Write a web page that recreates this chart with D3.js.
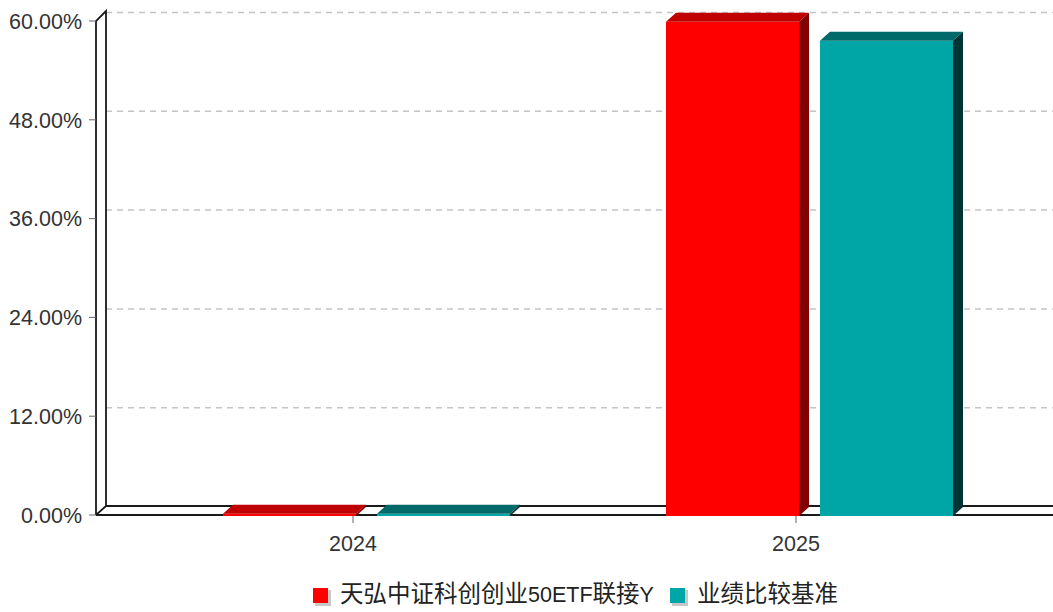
<!DOCTYPE html>
<html>
<head>
<meta charset="utf-8">
<script src="https://cdn.jsdelivr.net/npm/d3@7"></script>
<style>
  html, body { margin: 0; padding: 0; background: #fff; }
  svg { display: block; }
</style>
</head>
<body>
<svg id="chart" width="1053" height="612"></svg>
<script>
// data
const years = ['2024', '2025'];
const seriesNames = ['天弘中证科创创业50ETF联接Y', '业绩比较基准'];
const fundValues = [0.15, 59.9];
const benchValues = [0.15, 57.6];
const yTicks = [0, 12, 24, 36, 48, 60];

const colors = [
  { front: '#ff0000', top: '#c00000', side: '#800000' },
  { front: '#00a6a6', top: '#006a6a', side: '#003333' }
];

const width = 1053;
const height = 612;
const depthX = 10;
const depthY = 9;
const left = 96;

const svg = d3.select('#chart');

const y = d3.scaleLinear().domain([0, 60]).range([515, 21]);
const x0 = d3.scaleBand().domain(years).range([131.5, 1017.5]);
const x1 = d3.scaleBand().domain(seriesNames).range([-130, 157]).paddingInner(0.136);

const rows = [];
years.forEach(function(yr, i) {
  rows.push({ year: yr, s: 0, value: fundValues[i] });
  rows.push({ year: yr, s: 1, value: benchValues[i] });
});

// back wall gridlines (dashed)
svg.append('g')
  .selectAll('line')
  .data(yTicks.filter(function(d) { return d > 0; }))
  .enter()
  .append('line')
  .attr('x1', left + depthX)
  .attr('x2', width)
  .attr('y1', function(d) { return y(d) - depthY + 0.5; })
  .attr('y2', function(d) { return y(d) - depthY + 0.5; })
  .attr('stroke', '#c4c4c4')
  .attr('stroke-width', 1.5)
  .attr('stroke-dasharray', '6,5');

// walls: left wall (front + back edge) and floor
const wall = svg.append('g')
  .attr('fill', 'none')
  .attr('stroke', '#1a1a1a')
  .attr('stroke-width', 1.8);

wall.append('path')
  .attr('d',
    'M' + left + ',' + y(0) + 'L' + left + ',' + y(60) +
    'L' + (left + depthX) + ',' + (y(60) - depthY - 1) +
    'L' + (left + depthX) + ',' + (y(0) - depthY) +
    'L' + left + ',' + y(0));
wall.append('line')
  .attr('x1', left).attr('x2', width)
  .attr('y1', y(0)).attr('y2', y(0));
wall.append('line')
  .attr('x1', left + depthX).attr('x2', width)
  .attr('y1', y(0) - depthY).attr('y2', y(0) - depthY);

// y axis ticks + labels
const yAxis = svg.append('g');
yAxis.selectAll('line')
  .data(yTicks)
  .enter()
  .append('line')
  .attr('x1', left - 7).attr('x2', left)
  .attr('y1', function(d) { return y(d); })
  .attr('y2', function(d) { return y(d); })
  .attr('stroke', '#666')
  .attr('stroke-width', 1);
yAxis.selectAll('text')
  .data(yTicks)
  .enter()
  .append('text')
  .attr('x', left - 14)
  .attr('y', function(d) { return y(d); })
  .attr('dy', '0.36em')
  .attr('text-anchor', 'end')
  .attr('font-family', '"Liberation Sans", Arial, sans-serif')
  .attr('font-size', 21.5)
  .attr('fill', '#333')
  .text(function(d) { return d3.format('.2f')(d) + '%'; });

// x axis ticks + labels
const xAxis = svg.append('g');
xAxis.selectAll('line')
  .data(years)
  .enter()
  .append('line')
  .attr('x1', function(d) { return x0(d) + x0.bandwidth() / 2; })
  .attr('x2', function(d) { return x0(d) + x0.bandwidth() / 2; })
  .attr('y1', y(0)).attr('y2', y(0) + 8)
  .attr('stroke', '#666');
xAxis.selectAll('text')
  .data(years)
  .enter()
  .append('text')
  .attr('x', function(d) { return x0(d) + x0.bandwidth() / 2; })
  .attr('y', 551)
  .attr('text-anchor', 'middle')
  .attr('font-family', '"Liberation Sans", Arial, sans-serif')
  .attr('font-size', 21.5)
  .attr('fill', '#333')
  .text(function(d) { return d; });

// 3D bars
const bars = svg.append('g')
  .selectAll('g')
  .data(rows)
  .enter()
  .append('g');

function barX(d) {
  return x0(d.year) + x0.bandwidth() / 2 + x1(seriesNames[d.s]);
}

bars.append('rect')
  .attr('x', barX)
  .attr('y', function(d) { return y(d.value); })
  .attr('width', x1.bandwidth())
  .attr('height', function(d) { return y(0) - y(d.value) + 1; })
  .attr('fill', function(d) { return colors[d.s].front; });

bars.append('path')
  .attr('d', function(d) {
    const xl = barX(d), w = x1.bandwidth(), yt = y(d.value);
    return 'M' + xl + ',' + yt + 'L' + (xl + depthX) + ',' + (yt - depthY) +
      'L' + (xl + w + depthX) + ',' + (yt - depthY) + 'L' + (xl + w) + ',' + yt + 'Z';
  })
  .attr('fill', function(d) { return colors[d.s].top; });

bars.append('path')
  .attr('d', function(d) {
    const xl = barX(d), w = x1.bandwidth(), yt = y(d.value), yb = y(0) + 1;
    return 'M' + (xl + w) + ',' + yt + 'L' + (xl + w + depthX) + ',' + (yt - depthY) +
      'L' + (xl + w + depthX) + ',' + (yb - depthY) + 'L' + (xl + w) + ',' + yb + 'Z';
  })
  .attr('fill', function(d) { return colors[d.s].side; });

// legend
const legendX = [313, 670];
const legend = svg.append('g')
  .selectAll('g')
  .data(seriesNames)
  .enter()
  .append('g')
  .attr('transform', function(d, i) { return 'translate(' + legendX[i] + ',588)'; });

legend.append('rect')
  .attr('x', 2).attr('y', 2)
  .attr('width', 16).attr('height', 16)
  .attr('fill', '#c8c8c8');
legend.append('rect')
  .attr('width', 15).attr('height', 15)
  .attr('fill', function(d, i) { return colors[i].front; });

const legendText = legend.append('text')
  .attr('x', 27)
  .attr('y', 8)
  .attr('dy', '0.36em')
  .attr('fill', '#222')
  .attr('font-family', '"Liberation Sans", "Noto Sans CJK SC", sans-serif');

legendText.selectAll('tspan')
  .data(function(d) { return d.match(/[\u4e00-\u9fff]+|[^\u4e00-\u9fff]+/g); })
  .enter()
  .append('tspan')
  .attr('font-size', function(d) { return /[\u4e00-\u9fff]/.test(d) ? 23.5 : 21.5; })
  .text(function(d) { return d; });
</script>
</body>
</html>
